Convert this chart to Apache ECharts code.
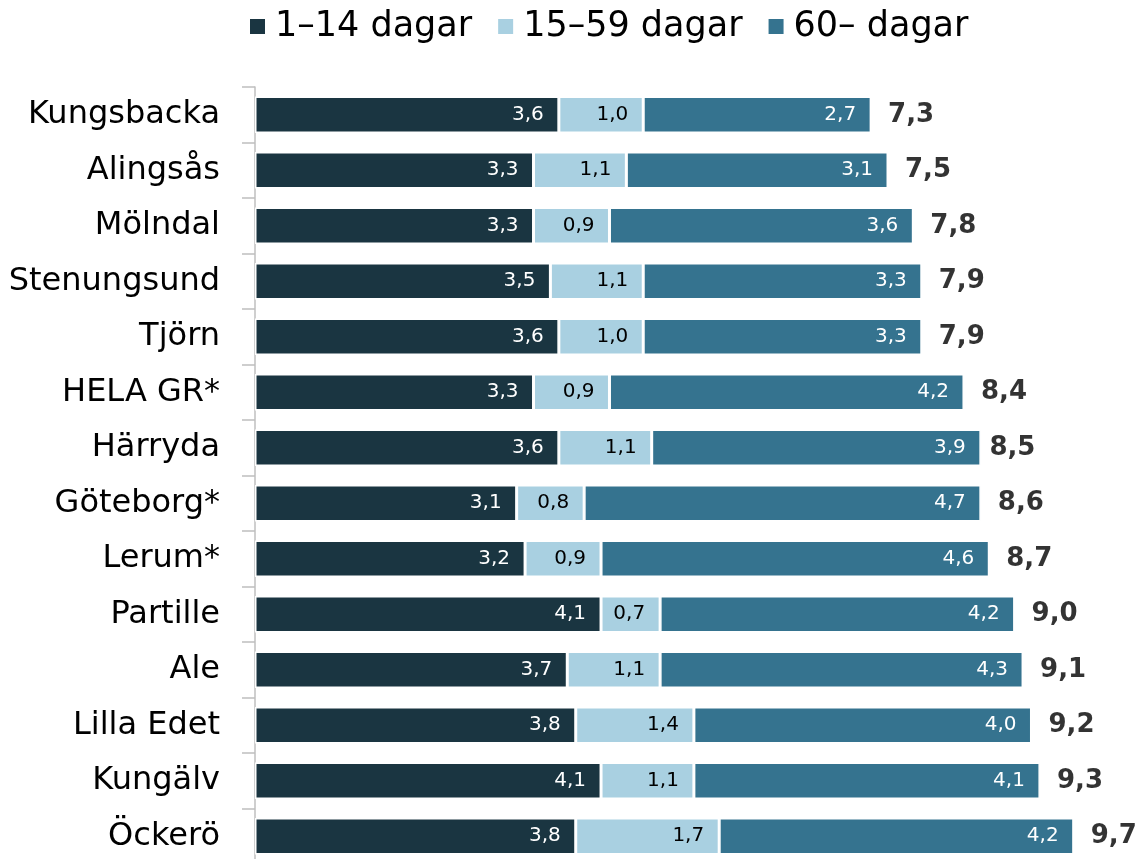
<!DOCTYPE html>
<html>
<head>
<meta charset="utf-8">
<script src="https://cdn.jsdelivr.net/npm/echarts@6/dist/echarts.min.js"></script>
<style>
    html,body{margin:0;padding:0;background:#fff;overflow:hidden;}
    #chart{width:1141px;height:880px;}
</style>
</head>
<body>
<div id="chart"></div>
<script>
    // kommuner, uppifrån och ned
    var categories=['Kungsbacka','Alingsås','Mölndal','Stenungsund','Tjörn','HELA GR*','Härryda','Göteborg*','Lerum*','Partille','Ale','Lilla Edet','Kungälv','Öckerö'];
    var seriesNames=['1–14 dagar','15–59 dagar','60– dagar'];
    var days1to14=[3.6,3.3,3.3,3.5,3.6,3.3,3.6,3.1,3.2,4.1,3.7,3.8,4.1,3.8];
    var days15to59=[1.0,1.1,0.9,1.1,1.0,0.9,1.1,0.8,0.9,0.7,1.1,1.4,1.1,1.7];
    var days60plus=[2.7,3.1,3.6,3.3,3.3,4.2,3.9,4.7,4.6,4.2,4.3,4.0,4.1,4.2];
    var totals=[7.3,7.5,7.8,7.9,7.9,8.4,8.5,8.6,8.7,9.0,9.1,9.2,9.3,9.7];

    var FONT='DejaVu Sans';
    function comma(v){return v.toFixed(1).replace('.',',');}

    function barSeries(name,data,color,labelColor){
        return {
            name:name,
            type:'bar',
            stack:'total',
            barWidth:'66%',
            data:data,
            itemStyle:{color:color,borderColor:'#fff',borderWidth:1.5},
            label:{
                show:true,
                position:'insideRight',
                distance:15,
                color:labelColor,
                fontFamily:FONT,
                fontSize:20,
                formatter:function(p){return comma(p.value);}
            }
        };
    }

    var chart=echarts.init(document.getElementById('chart'));
    var option={
        animation:false,
        textStyle:{fontFamily:FONT},
        legend:{
            top:4,
            left:243,
            itemWidth:17,
            itemHeight:17,
            itemGap:24,
            icon:'rect',
            textStyle:{fontFamily:FONT,fontSize:35,color:'#000',padding:[0,0,0,4]},
            data:seriesNames
        },
        grid:{left:255,top:87,height:777,right:42},
        xAxis:{type:'value',min:0,max:10,show:false},
        yAxis:{
            type:'category',
            inverse:true,
            data:categories,
            axisLine:{show:true,lineStyle:{color:'#bfbfbf',width:1.5}},
            axisTick:{show:true,length:13,lineStyle:{color:'#bfbfbf',width:1.5}},
            axisLabel:{fontFamily:FONT,fontSize:32,color:'#000',margin:35}
        },
        series:[
            barSeries(seriesNames[0],days1to14,'#1a3541','#fff'),
            barSeries(seriesNames[1],days15to59,'#a9d0e1','#000'),
            barSeries(seriesNames[2],days60plus,'#35738f','#fff'),
            {
                name:'totalt',
                type:'scatter',
                symbolSize:0,
                silent:true,
                data:totals.map(function(t,i){return [t,categories[i]];}),
                label:{
                    show:true,
                    position:'right',
                    distance:17,
                    color:'#000',
                    fontFamily:FONT,
                    fontSize:26,
                    fontWeight:'bold',
                    formatter:function(p){return comma(p.value[0]);}
                }
            }
        ]
    };
    chart.setOption(option);
    window.addEventListener('resize',chart.resize);
</script>
</body>
</html>
